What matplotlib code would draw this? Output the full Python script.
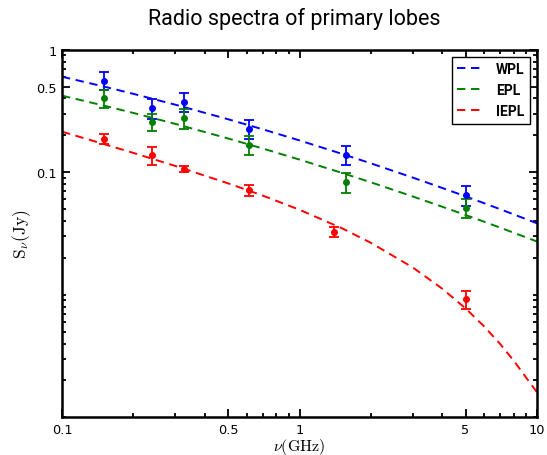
import matplotlib
matplotlib.use('Agg')
import matplotlib.pyplot as plt
from matplotlib.ticker import FixedLocator, FixedFormatter, LogLocator, NullFormatter

plt.rcParams['mathtext.fontset'] = 'cm'

# Observed data
freq_obs = [0.15, 0.24, 0.325, 0.61, 1.57, 5.0]
wpl_flux = [0.56, 0.334, 0.377, 0.226, 0.139, 0.065]
wpl_err = [0.093, 0.062, 0.066, 0.040, 0.025, 0.012]
epl_flux = [0.40, 0.256, 0.276, 0.168, 0.083, 0.051]
epl_err = [0.065, 0.040, 0.051, 0.031, 0.015, 0.009]
freq_red = [0.15, 0.24, 0.325, 0.61, 1.40, 5.0]
iepl_flux = [0.187, 0.138, 0.106, 0.071, 0.0325, 0.0092]
iepl_err = [0.018, 0.023, 0.006, 0.007, 0.003, 0.0016]

# Model curves
model_freq = [0.1, 0.15, 0.2, 0.3, 0.5, 0.7, 1, 1.5, 2, 3, 4, 5, 6, 7, 8, 9, 10]
wpl_model = [0.602, 0.5005, 0.436, 0.3557, 0.2708, 0.2241, 0.1818, 0.1418, 0.1181,
             0.0904, 0.0743, 0.0636, 0.0558, 0.0499, 0.0452, 0.0414, 0.0383]
epl_model = [0.4217, 0.3498, 0.3045, 0.248, 0.1887, 0.1562, 0.1268, 0.0991, 0.0827,
             0.0634, 0.0522, 0.0448, 0.0394, 0.0353, 0.0320, 0.0294, 0.0272]
iepl_model = [0.2143, 0.1699, 0.1436, 0.1125, 0.0812, 0.0645, 0.0494, 0.0351, 0.0265,
              0.0167, 0.01117, 0.00775, 0.00550, 0.00396, 0.00288, 0.00211, 0.00160]

x_ticks = [0.1, 0.5, 1, 5, 10]
x_labels = ['0.1', '0.5', '1', '5', '10']
y_ticks = [0.1, 0.5, 1]
y_labels = ['0.1', '0.5', '1']

fig = plt.figure(figsize=(5.47, 4.56), dpi=100)
ax = fig.add_axes([62/547, 1-418.3/456, (537-62)/547, (418.3-50.7)/456])

dash = (4.3, 2.9)
ax.plot(model_freq, wpl_model, '--', dashes=dash, color='blue', lw=1.4, label='WPL')
ax.plot(model_freq, epl_model, '--', dashes=dash, color='green', lw=1.4, label='EPL')
ax.plot(model_freq, iepl_model, '--', dashes=dash, color='red', lw=1.4, label='IEPL')

ekw = dict(fmt='o', ms=4, capsize=3.5, capthick=1.3, elinewidth=1.3)
ax.errorbar(freq_obs, wpl_flux, yerr=wpl_err, color='blue', **ekw)
ax.errorbar(freq_obs, epl_flux, yerr=epl_err, color='green', **ekw)
ax.errorbar(freq_red, iepl_flux, yerr=iepl_err, color='red', **ekw)

ax.set_xscale('log')
ax.set_yscale('log')
ax.set_xlim(0.1, 10)
ax.set_ylim(0.001, 1)

ax.xaxis.set_major_locator(FixedLocator(x_ticks))
ax.xaxis.set_major_formatter(FixedFormatter(x_labels))
ax.xaxis.set_minor_locator(LogLocator(base=10, subs=range(2, 10)))
ax.xaxis.set_minor_formatter(NullFormatter())
ax.yaxis.set_major_locator(FixedLocator(y_ticks))
ax.yaxis.set_major_formatter(FixedFormatter(y_labels))
ax.yaxis.set_minor_locator(LogLocator(base=10, subs=range(1, 10)))
ax.yaxis.set_minor_formatter(NullFormatter())

ax.tick_params(which='both', direction='in', top=True, right=True, width=1.3)
ax.tick_params(which='major', length=6, labelsize=9.3, pad=4)
ax.tick_params(which='minor', length=3)
for sp in ax.spines.values():
    sp.set_linewidth(1.8)

ax.set_xlabel(r'$\nu(\mathrm{GHz})$', fontsize=11.5)
ax.set_ylabel(r'$\mathrm{S}_{\nu}(\mathrm{Jy})$', fontsize=12.5)
ax.xaxis.set_label_coords(0.5, (418.3 - 447) / 367.6)
ax.yaxis.set_label_coords((22 - 62) / 475, 0.5)
ax.xaxis.label.set_verticalalignment('center')
ax.yaxis.label.set_verticalalignment('center')

fig.suptitle('Radio spectra of primary lobes', x=294/547, y=1-19/456,
             va='center', fontsize=15.5, family='Roboto')

leg = ax.legend(loc='upper right', fancybox=False, edgecolor='black', framealpha=1,
                prop={'family': 'Roboto', 'weight': 'bold', 'size': 10},
                handlelength=2.0)
leg.get_frame().set_linewidth(1.0)

fig.savefig('out.png', dpi=100)
